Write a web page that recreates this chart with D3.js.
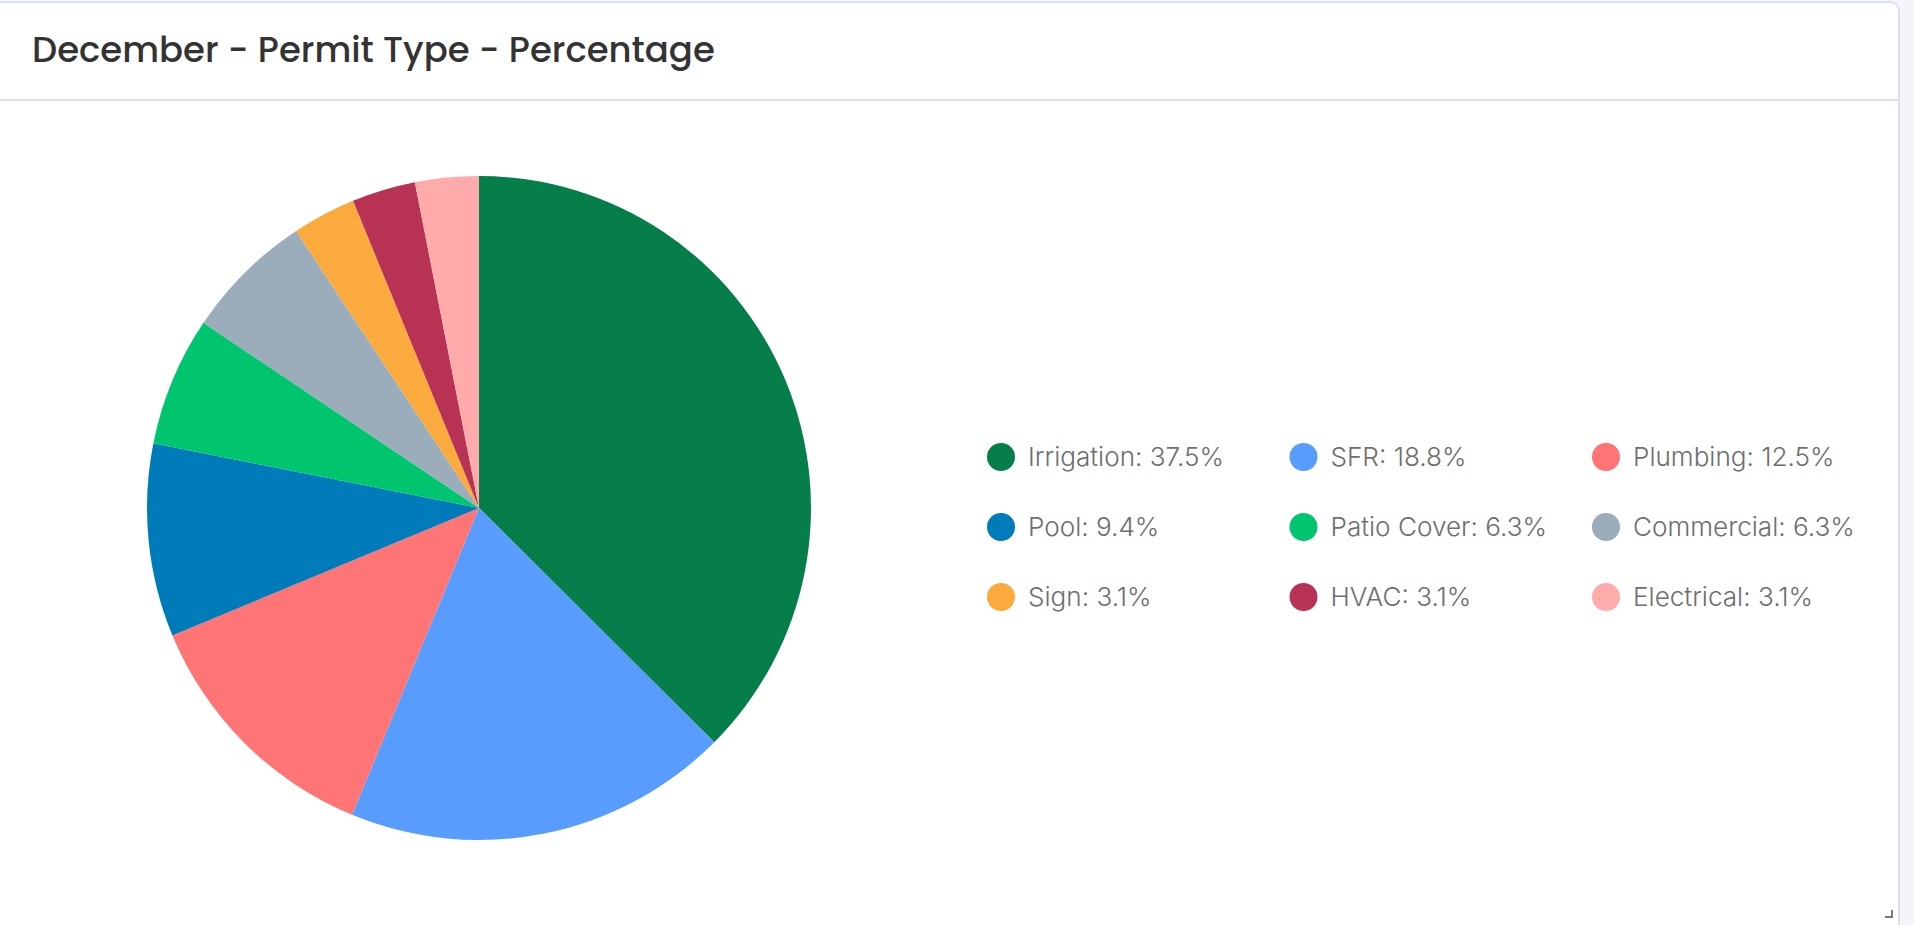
<!DOCTYPE html>
<html>
<head>
<meta charset="utf-8">
<script src="https://cdn.jsdelivr.net/npm/d3@7/dist/d3.min.js"></script>
<style>
  html, body { margin: 0; padding: 0; background: #f4f5f9; overflow: hidden; }
  svg { display: block; }
</style>
</head>
<body>
<svg id="chart" width="1914" height="925"></svg>
<script>
const title = "December - Permit Type - Percentage";
const categories = ["Irrigation", "SFR", "Plumbing", "Pool", "Patio Cover", "Commercial", "Sign", "HVAC", "Electrical"];
const percentages = [37.5, 18.8, 12.5, 9.4, 6.3, 6.3, 3.1, 3.1, 3.1];
const colors = ["#057e4a", "#589cfd", "#ff7474", "#007bb9", "#00c56f", "#9bacbb", "#fbab3e", "#b73253", "#ffabab"];

const W = 1914, H = 925;
const svg = d3.select("#chart");

// card
svg.append("rect").attr("x", -10).attr("y", 2).attr("width", 1909).attr("height", 960)
  .attr("rx", 9).attr("fill", "#ffffff").attr("stroke", "#dde0ec").attr("stroke-width", 2);
svg.append("line").attr("x1", -10).attr("x2", 1899).attr("y1", 100).attr("y2", 100)
  .attr("stroke", "#dde0ec").attr("stroke-width", 2);
// resize handle
svg.append("path").attr("d", "M1885,917 L1892,917 L1892,910").attr("fill", "none")
  .attr("stroke", "#777").attr("stroke-width", 2);

// title
const t = svg.append("text").attr("x", 32).attr("y", 62)
  .attr("font-family", "Poppins, 'Open Sans', 'Noto Sans', sans-serif")
  .attr("font-weight", 500).attr("font-size", 30).attr("fill", "#333")
  .text(title);
{
  const len = t.node().getComputedTextLength();
  t.attr("font-size", 30 * 683 / len);
}

// pie
const cx = 479, cy = 508, R = 332;
const color = d3.scaleOrdinal().domain(categories).range(colors);
const pie = d3.pie().sort(null).value(d => d.v);
const data = categories.map((c, i) => ({ c, v: percentages[i] }));
const arc = d3.arc().innerRadius(0).outerRadius(R);
svg.append("g").attr("transform", `translate(${cx},${cy})`)
  .selectAll("path").data(pie(data)).join("path")
  .attr("d", arc).attr("fill", d => color(d.data.c));

// legend
const colX = d3.scalePoint().domain([0, 1, 2]).range([1001, 1606]);
const rowY = d3.scalePoint().domain([0, 1, 2]).range([457, 597]);
const lg = svg.append("g");
const items = lg.selectAll("g").data(data).join("g")
  .attr("transform", (d, i) => `translate(${colX(i % 3)},${rowY(Math.floor(i / 3))})`);
items.append("circle").attr("r", 14).attr("fill", d => color(d.c));
const texts = items.append("text").attr("x", 27).attr("y", 0).attr("dy", "0.35em")
  .attr("font-family", "Inter, 'Noto Sans', sans-serif").attr("font-size", 22)
  .attr("font-weight", 300)
  .attr("fill", "#6e6e6e").text(d => `${d.c}: ${d.v}%`);
{
  const len = texts.nodes()[0].getComputedTextLength();
  texts.attr("font-size", 22 * 196 / len);
}
</script>
</body>
</html>
